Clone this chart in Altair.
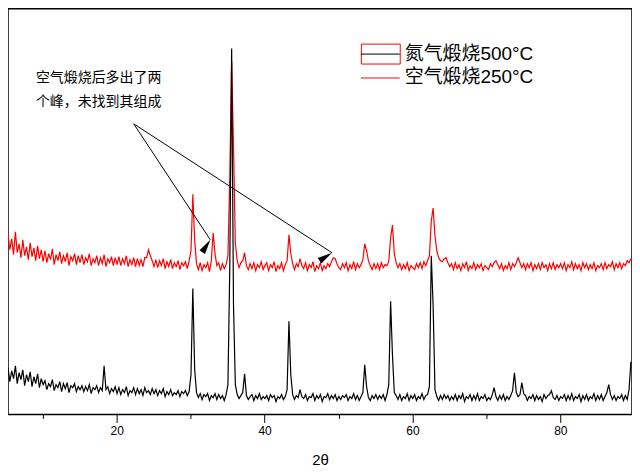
import math
import altair as alt
import pandas as pd

# ---- scan grid (2θ, degrees) ----
start_2theta = 5.3
step_2theta = 0.25

# ---- intensities (a.u.), rows of 5 degrees ----
black_n2_500 = [
    47, 33, 44, 36, 49, 31, 42, 35, 45, 29, 40, 33, 43, 28, 38, 31, 41, 27, 36, 30,
    34, 25, 31, 28, 35, 24, 30, 27, 33, 23, 31, 26, 32, 22, 29, 27, 31, 23, 28, 25,
    29, 23, 28, 24, 30, 21, 27, 25, 29, 22, 27, 24, 49, 25, 28, 21, 26, 23, 28, 21,
    27, 20, 25, 22, 28, 19, 24, 22, 27, 20, 26, 21, 25, 19, 27, 22, 24, 20, 26, 21,
    25, 19, 24, 21, 26, 18, 23, 20, 25, 19, 22, 20, 24, 18, 23, 21, 24, 19, 23, 40,
    127, 45, 22, 17, 21, 15, 20, 18, 21, 14, 19, 17, 21, 15, 20, 16, 19, 14, 20, 30,
    150, 369, 110, 30, 20, 16, 19, 22, 41, 19, 15, 18, 20, 14, 19, 16, 21, 15, 18, 16,
    19, 14, 20, 17, 19, 13, 18, 16, 20, 15, 18, 25, 94, 40, 20, 15, 19, 17, 25, 18,
    16, 20, 14, 18, 17, 21, 14, 19, 16, 20, 13, 18, 17, 21, 15, 19, 16, 20, 14, 18,
    15, 19, 17, 20, 14, 18, 16, 21, 15, 19, 14, 18, 22, 50, 28, 17, 14, 19, 16, 20,
    15, 19, 16, 20, 14, 20, 30, 114, 60, 22, 19, 15, 20, 14, 18, 16, 21, 14, 19, 16,
    20, 14, 18, 16, 21, 15, 19, 20, 28, 160, 110, 25, 18, 14, 19, 15, 20, 16, 19, 14,
    18, 15, 20, 14, 19, 16, 21, 13, 18, 16, 20, 14, 19, 15, 21, 14, 18, 16, 20, 14,
    17, 15, 20, 27, 18, 14, 19, 15, 20, 14, 18, 15, 19, 24, 42, 22, 18, 20, 32, 21,
    19, 14, 18, 16, 20, 14, 19, 15, 18, 13, 20, 16, 19, 20, 24, 17, 15, 19, 14, 18,
    16, 20, 14, 19, 15, 21, 14, 18, 16, 20, 13, 19, 15, 20, 14, 18, 16, 21, 14, 19,
    15, 20, 14, 18, 22, 30, 20, 15, 19, 14, 18, 16, 20, 14, 19, 15, 25, 53,
]

red_air_250 = [
    182, 166, 177, 161, 184, 163, 172, 158, 176, 160, 169, 156, 173, 159, 168, 155, 170, 157, 166, 154,
    165, 153, 162, 156, 167, 151, 161, 155, 164, 152, 160, 154, 163, 150, 159, 155, 162, 151, 160, 153,
    161, 151, 158, 154, 162, 150, 157, 153, 160, 150, 158, 152, 161, 149, 157, 153, 159, 150, 158, 151,
    159, 150, 157, 152, 160, 149, 156, 151, 158, 149, 157, 150, 156, 149, 158, 158, 166, 160, 155, 149,
    156, 148, 155, 150, 157, 147, 154, 149, 156, 147, 153, 149, 155, 146, 153, 150, 154, 147, 155, 165,
    222, 175, 152, 146, 153, 145, 151, 148, 153, 144, 155, 183, 162, 150, 153, 145, 152, 147, 151, 160,
    240, 356, 270, 172, 155, 148, 153, 155, 163, 150, 146, 152, 147, 153, 145, 151, 148, 154, 146, 150,
    153, 145, 151, 148, 154, 144, 150, 147, 153, 145, 151, 155, 181, 162, 152, 146, 152, 149, 157, 150,
    147, 153, 145, 151, 148, 154, 144, 150, 147, 153, 145, 150, 147, 152, 149, 154, 158, 157, 152, 148,
    146, 152, 148, 153, 145, 151, 147, 154, 146, 152, 148, 151, 156, 172, 165, 155, 150, 146, 152, 147,
    152, 146, 153, 148, 151, 150, 154, 178, 191, 162, 153, 148, 152, 146, 151, 147, 153, 145, 150, 148,
    146, 152, 148, 153, 147, 154, 150, 155, 160, 195, 208, 180, 165, 158, 155, 154, 157, 158, 153, 149,
    152, 146, 153, 147, 151, 145, 152, 148, 154, 145, 150, 147, 153, 146, 151, 148, 152, 145, 150, 148,
    146, 152, 149, 153, 155, 151, 147, 152, 145, 150, 147, 153, 146, 152, 149, 153, 158, 153, 148, 152,
    146, 152, 148, 153, 145, 151, 147, 152, 146, 153, 148, 151, 145, 152, 147, 153, 146, 151, 148, 152,
    147, 153, 145, 151, 148, 154, 146, 152, 147, 151, 145, 153, 148, 152, 146, 151, 147, 153, 145, 150,
    148, 152, 146, 153, 147, 151, 149, 154, 146, 152, 148, 153, 147, 152, 150, 155, 153, 157,
]

series_names = ["氮气煅烧500°C", "空气煅烧250°C"]
series_colors = ["black", "red"]

x_domain = [5.3, 89.7]
y_domain = [0, 409]
x_tick_values = [10, 20, 30, 40, 50, 60, 70, 80]

annotation_lines = ["空气煅烧后多出了两", "个峰，未找到其组成"]
arrow_start = (22.3, 293)
arrow_ends_x = [32.67, 49.12]
arrow_ends_y = [176, 163]

W, H = 626, 407

two_theta = [round(start_2theta + step_2theta * i, 2) for i in range(len(black_n2_500))]
assert len(black_n2_500) == len(red_air_250)

df_black = pd.DataFrame({"x": two_theta, "y": black_n2_500, "s": series_names[0]})
df_red = pd.DataFrame({"x": two_theta, "y": red_air_250, "s": series_names[1]})

xs = alt.Scale(domain=x_domain, nice=False, zero=False)
ys = alt.Scale(domain=y_domain, nice=False, zero=False)

x_axis = alt.Axis(
    values=x_tick_values,
    labelExpr="datum.value % 20 === 0 ? datum.label : ''",
    tickSize={"condition": {"test": "datum.value % 20 === 0", "value": 8}, "value": 4},
    grid=False,
    domain=False,
    title="2θ",
    labelPadding=3,
    titlePadding=16,
)

red_line = alt.Chart(df_red).mark_line(color=series_colors[1], strokeWidth=1.2, clip=True).encode(
    x=alt.X("x:Q", scale=xs, axis=x_axis),
    y=alt.Y("y:Q", scale=ys, axis=None),
)
black_line = alt.Chart(df_black).mark_line(color=series_colors[0], strokeWidth=1.2, clip=True).encode(
    x=alt.X("x:Q", scale=xs),
    y=alt.Y("y:Q", scale=ys),
)

# arrows
arr_df = pd.DataFrame({
    "x0": [arrow_start[0]] * 2, "y0": [arrow_start[1]] * 2,
    "x1": arrow_ends_x, "y1": arrow_ends_y,
})
px_per_x = W / (x_domain[1] - x_domain[0])
px_per_y = H / (y_domain[1] - y_domain[0])
arr_df["ang"] = [
    (math.degrees(math.atan2((x1 - x0) * px_per_x, (y0 - y1) * px_per_y)) + 360) % 360
    for x0, y0, x1, y1 in zip(arr_df.x0, arr_df.y0, arr_df.x1, arr_df.y1)
]
arrow_lines = alt.Chart(arr_df).mark_rule(color="black", strokeWidth=1).encode(
    x=alt.X("x0:Q", scale=xs), y=alt.Y("y0:Q", scale=ys),
    x2="x1:Q", y2="y1:Q",
)
arrow_heads = alt.Chart(arr_df).mark_point(
    shape="M0,0L-0.45,2L0.45,2Z", filled=True, color="black", opacity=1, size=220
).encode(
    x=alt.X("x1:Q", scale=xs), y=alt.Y("y1:Q", scale=ys),
    angle=alt.Angle("ang:Q", scale=None),
)

cjk_font = "Liberation Sans, Noto Sans CJK SC"

def label(text, x, y, size):
    return alt.Chart(alt.Data(values=[{"t": text}])).mark_text(
        align="left", baseline="middle", font=cjk_font, fontSize=size, color="black"
    ).encode(x=alt.value(x), y=alt.value(y), text="t:N")

ann1 = label(annotation_lines[0], 28, 70, 14)
ann2 = label(annotation_lines[1], 28, 94, 14)

leg_box = alt.Chart(alt.Data(values=[{"a": 0}])).mark_rect(
    fill="white", fillOpacity=0, stroke="red", strokeWidth=1
).encode(x=alt.value(354.5), x2=alt.value(393.5), y=alt.value(35.5), y2=alt.value(55.5))
leg_black = alt.Chart(alt.Data(values=[{"a": 0}])).mark_rule(
    color=series_colors[0], stroke=series_colors[0], strokeWidth=1
).encode(x=alt.value(354), x2=alt.value(393), y=alt.value(45.5))
leg_red = alt.Chart(alt.Data(values=[{"a": 0}])).mark_rule(
    color=series_colors[1], stroke=series_colors[1], strokeWidth=1
).encode(x=alt.value(354), x2=alt.value(393), y=alt.value(69.5))
leg_t1 = label(series_names[0], 398, 45, 19)
leg_t2 = label(series_names[1], 398, 69, 19)

chart = alt.layer(
    red_line, black_line, arrow_lines, arrow_heads, ann1, ann2,
    leg_box, leg_black, leg_red, leg_t1, leg_t2,
).properties(
    width=W, height=H, padding=0
).configure_view(
    stroke="black", strokeWidth=1.5
).configure_axis(
    labelFont="Liberation Sans", labelFontSize=12, labelColor="black",
    titleFont="Liberation Sans", titleFontSize=15, titleFontWeight="normal", titleColor="black",
    tickColor="black", tickWidth=1,
)

chart.save("out.html", embed_options={"renderer": "svg", "actions": False})
